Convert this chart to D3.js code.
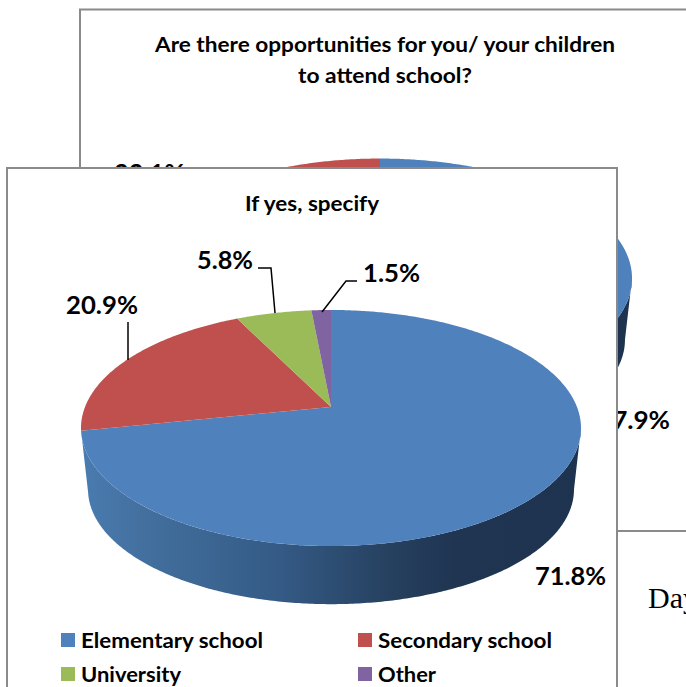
<!DOCTYPE html>
<html><head><meta charset="utf-8">
<style>html,body{margin:0;padding:0;background:#fff;overflow:hidden}svg{display:block}
text{font-family:Lato,"Open Sans",sans-serif;font-weight:700;fill:#000}</style>
<script src="https://cdn.jsdelivr.net/npm/d3@7/dist/d3.min.js"></script></head><body>
<script>
const frontCategories = ["Elementary school","Secondary school","University","Other"];
const frontValues = [71.8,20.9,5.8,1.5];
const frontLabels = ["71.8%","20.9%","5.8%","1.5%"];
const backCategories = ["Yes","No"];
const backValues = [77.9,22.1];
const backLabels = ["77.9%","22.1%"];
const titleBack = ["Are there opportunities for you/ your children","to attend school?"];
const titleFront = "If yes, specify";
const trailingText = "Day";
const palette = ["#4f81bd","#c0504d","#9bbb59","#8064a2"];

const W=686,H=687;
const svg=d3.select("body").append("svg").attr("width",W).attr("height",H);
const defs=svg.append("defs");
const frameColor="#8a8a8a";
const color=d3.scaleOrdinal().domain(frontCategories).range(palette);

function makeGradient(id,x0,x1){
  const g=defs.append("linearGradient").attr("id",id).attr("gradientUnits","userSpaceOnUse")
    .attr("x1",x0).attr("x2",x1).attr("y1",0).attr("y2",0);
  [[0,"#4a7cb0"],[.12,"#43709f"],[.4,"#345a85"],[.62,"#26405f"],[.75,"#1f3552"],[1,"#1e3350"]]
    .forEach(s=>g.append("stop").attr("offset",s[0]).attr("stop-color",s[1]));
}

// Perspective tilted pie: p = apex position, a/b = radii, k = perspective, s/dy = lower rim
function drawPie(g,values,cats,o){
  const arcs=d3.pie().sort(null).value(d=>d)(values);
  const proj=t=>{const u=Math.sin(t),v=Math.cos(t),w=1+o.k*v;return [o.x+o.a*u/w,o.y-o.b*v/w];};
  const low=t=>{const p=proj(t);return [o.x+(p[0]-o.x)*o.s,o.y+(p[1]-o.y)*o.s+o.dy];};
  const seq=(t0,t1)=>{const n=Math.max(2,Math.ceil(Math.abs(t1-t0)/0.01));return d3.range(n+1).map(i=>t0+(t1-t0)*i/n);};
  const line=d3.line();
  // visible outer wall of the first slice, from the right-hand tangent point round to the slice end
  const a0=Math.acos(-o.k),a1=arcs[0].endAngle;
  const wall=seq(a0,a1).map(proj).concat(seq(a1,a0).map(low));
  g.append("path").attr("d",line(wall)+"Z").attr("fill","url(#"+o.grad+")");
  g.selectAll("path.top").data(arcs).join("path").attr("class","top")
    .attr("d",d=>line([[o.x,o.y]].concat(seq(d.startAngle,d.endAngle).map(proj)))+"Z")
    .attr("fill",(d,i)=>color(frontCategories[i]));
}
function txt(g,s,x,y,size,anchor,width){
  const t=g.append("text").attr("x",x).attr("y",y).attr("font-size",size).attr("text-anchor",anchor||"start").text(s);
  if(width) t.attr("textLength",width).attr("lengthAdjust","spacingAndGlyphs");
  return t;
}

// ---- back chart
const back=svg.append("g");
back.append("rect").attr("x",80).attr("y",9.5).attr("width",W).attr("height",521.5)
  .attr("fill","#fff").attr("stroke",frameColor).attr("stroke-width",2);
txt(back,titleBack[0],385,52,20.5,"middle",460);
txt(back,titleBack[1],385,83,20.5,"middle",174);
makeGradient("gb",128,632);
drawPie(back.append("g"),backValues,backCategories,{x:380,y:257,a:248,b:116,k:.178,s:.972,dy:62,grad:"gb"});
txt(back,backLabels[0],670,429,25,"end",73);
txt(back,backLabels[1],185,182,25,"end",71);

// ---- "Day" body text under the back chart
svg.append("text").attr("x",648).attr("y",608).attr("font-size",30)
  .style("font-family","'Liberation Serif',serif").style("font-weight",400).text(trailingText);

// ---- front chart
const front=svg.append("g");
front.append("rect").attr("x",7).attr("y",168).attr("width",610).attr("height",H)
  .attr("fill","#fff").attr("stroke",frameColor).attr("stroke-width",2);
txt(front,titleFront,312,211,20,"middle",134);
makeGradient("gf",81,581);
drawPie(front.append("g"),frontValues,frontCategories,{x:331,y:407,a:246,b:114.3,k:.178,s:.972,dy:62,grad:"gf"});

// data labels and leaders
txt(front,frontLabels[0],606,585,25,"end",71);
txt(front,frontLabels[1],138,314,25,"end",72);
txt(front,frontLabels[2],253,269,25,"end",56);
txt(front,frontLabels[3],363,282,25,"start",57);
const leaders=[[[128,322],[128,360]],[[258,268],[271,268],[275,313]],[[357,281],[346,281],[322,312]]];
front.selectAll("path.leader").data(leaders).join("path").attr("class","leader")
  .attr("d",d3.line()).attr("fill","none").attr("stroke","#000").attr("stroke-width",1.5);

// legend
const legX=d3.scaleOrdinal().domain([0,1]).range([61,358]);
const legY=d3.scaleOrdinal().domain([0,1]).range([633,667]);
const legW=[182,174,100,58];
const leg=front.selectAll("g.leg").data(frontCategories).join("g").attr("class","leg")
  .attr("transform",(d,i)=>`translate(${legX(i%2)},${legY(Math.floor(i/2))})`);
leg.append("rect").attr("width",14).attr("height",14).attr("fill",d=>color(d));
leg.append("text").attr("x",20).attr("y",15).attr("font-size",21).text(d=>d)
  .attr("textLength",(d,i)=>legW[i]).attr("lengthAdjust","spacingAndGlyphs");
</script></body></html>
